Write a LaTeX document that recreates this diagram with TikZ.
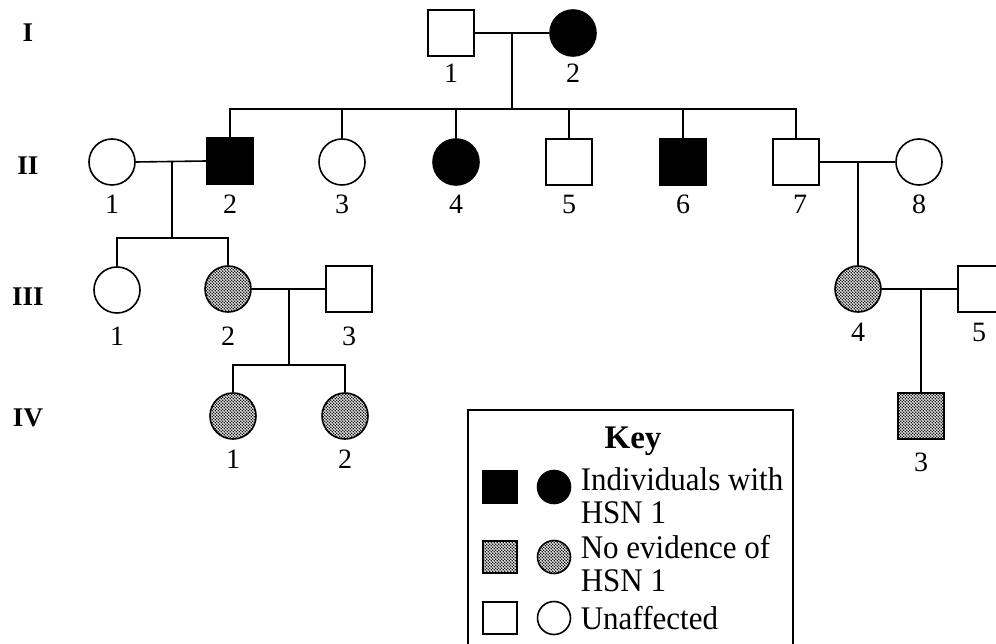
\documentclass[tikz,border=0pt]{standalone}
\usepackage{fontspec}
\setmainfont{Liberation Serif}
\newfontfamily\keyfont[FakeStretch=0.94]{Liberation Serif}
\usetikzlibrary{patterns}
\pgfdeclarepatternformonly{checkdots}{\pgfqpoint{-0.5pt}{-0.5pt}}{\pgfqpoint{3.5pt}{3.5pt}}{\pgfqpoint{3pt}{3pt}}{%
  \pgfpathcircle{\pgfqpoint{0.75pt}{0.75pt}}{0.95pt}%
  \pgfpathcircle{\pgfqpoint{2.25pt}{2.25pt}}{0.95pt}%
  \pgfusepath{fill}}
\begin{document}
\begin{tikzpicture}[x=1pt,y=-1pt,line width=1.6pt,
  male/.style={draw,rectangle,minimum size=46pt,inner sep=0pt},
  female/.style={draw,circle,minimum size=46pt,inner sep=0pt},
  kmale/.style={draw,rectangle,minimum width=34pt,minimum height=32pt,inner sep=0pt},
  kfemale/.style={draw,circle,minimum size=33pt,inner sep=0pt},
  aff/.style={fill=black},
  carr/.style={pattern=checkdots},
  num/.style={font=\fontsize{28}{28}\selectfont,inner sep=0pt},
  gen/.style={font=\fontsize{27}{27}\selectfont\bfseries,inner sep=0pt},
  keytxt/.style={font=\keyfont\fontsize{33}{33}\selectfont,anchor=base west,inner sep=0pt},
]
\useasboundingbox (0,0) rectangle (996,644);
\clip (0,0) rectangle (996,644);

% generation labels
\node[gen] (gI) at (28,33) {I};
\node[gen] (gII) at (28,166) {II};
\node[gen] (gIII) at (28,297) {III};
\node[gen] (gIV) at (28,418) {IV};

% Generation I
\node[male] (m11) at (451,33) {};
\node[female,aff] (f12) at (573,33) {};
\coordinate (c1) at (512,33);
\coordinate (sib2) at (512,109);

% Generation II
\node[female] (f21) at (112,162) {};
\node[male,aff] (m22) at (230,161) {};
\node[female] (f23) at (342,162) {};
\node[female,aff] (f24) at (456,162) {};
\node[male] (m25) at (569,162) {};
\node[male,aff] (m26) at (683,162) {};
\node[male] (m27) at (796,162) {};
\node[female] (f28) at (919,162) {};
\coordinate (c2a) at (172,162);
\coordinate (sib3) at (172,238);
\coordinate (c2b) at (858,162);

% Generation III
\node[female] (f31) at (117,290) {};
\node[female,carr] (f32) at (228,289) {};
\node[male] (m33) at (349,289) {};
\node[female,carr] (f34) at (858,289) {};
\node[male] (m35) at (981,289) {};
\coordinate (c3a) at (289,289);
\coordinate (sib4) at (289,365);
\coordinate (c3b) at (921,289);

% Generation IV
\node[female,carr] (f41) at (233,416) {};
\node[female,carr] (f42) at (345,416) {};
\node[male,carr] (m43) at (921,416) {};

% connectors
\draw (m11.east) -- (f12.west);
\draw (c1) -- (sib2);
\draw (m22.north) -- (m22.north |- sib2) -- (m27.north |- sib2) -- (m27.north);
\foreach \n in {f23,f24,m25,m26} \draw (\n.north) -- (\n.north |- sib2);

\draw (f21.east) -- (m22.west);
\draw (c2a) -- (sib3);
\draw (f31.north) -- (f31.north |- sib3) -- (f32.north |- sib3) -- (f32.north);

\draw (m27.east) -- (f28.west);
\draw (c2b) -- (f34.north);

\draw (f32.east) -- (m33.west);
\draw (c3a) -- (sib4);
\draw (f41.north) -- (f41.north |- sib4) -- (f42.north |- sib4) -- (f42.north);

\draw (f34.east) -- (m35.west);
\draw (c3b) -- (m43.north);

% individual numbers
\node[num] (l11) at (451,73) {1};
\node[num] (l12) at (573,73) {2};
\node[num] (l21) at (112,204) {1};
\node[num] (l22) at (230,204) {2};
\node[num] (l23) at (342,204) {3};
\node[num] (l24) at (456,204) {4};
\node[num] (l25) at (569,204) {5};
\node[num] (l26) at (683,204) {6};
\node[num] (l27) at (800,204) {7};
\node[num] (l28) at (919,204) {8};
\node[num] (l31) at (117,336) {1};
\node[num] (l32) at (228,336) {2};
\node[num] (l33) at (349,336) {3};
\node[num] (l34) at (858,332) {4};
\node[num] (l35) at (979,332) {5};
\node[num] (l41) at (233,459) {1};
\node[num] (l42) at (345,459) {2};
\node[num] (l43) at (921,462) {3};

% key
\draw[line width=1.3pt] (468,410) rectangle (793,700);
\node[font=\fontsize{33}{33}\selectfont\bfseries,anchor=base,inner sep=0pt] (keyt) at (633,448) {Key};
\node[kmale,aff] (ks1) at (500,487) {};
\node[kfemale,aff] (kc1) at (554,487) {};
\node[kmale,carr] (ks2) at (500,557) {};
\node[kfemale,carr] (kc2) at (554,557) {};
\node[kmale] (ks3) at (500,618) {};
\node[kfemale] (kc3) at (554,618) {};
\node[keytxt] (kt1) at (580,490) {Individuals with};
\node[keytxt] (kt2) at (580,523) {HSN 1};
\node[keytxt] (kt3) at (580,558) {No evidence of};
\node[keytxt] (kt4) at (580,591) {HSN 1};
\node[keytxt] (kt5) at (580,629) {Unaffected};
\end{tikzpicture}
\end{document}
